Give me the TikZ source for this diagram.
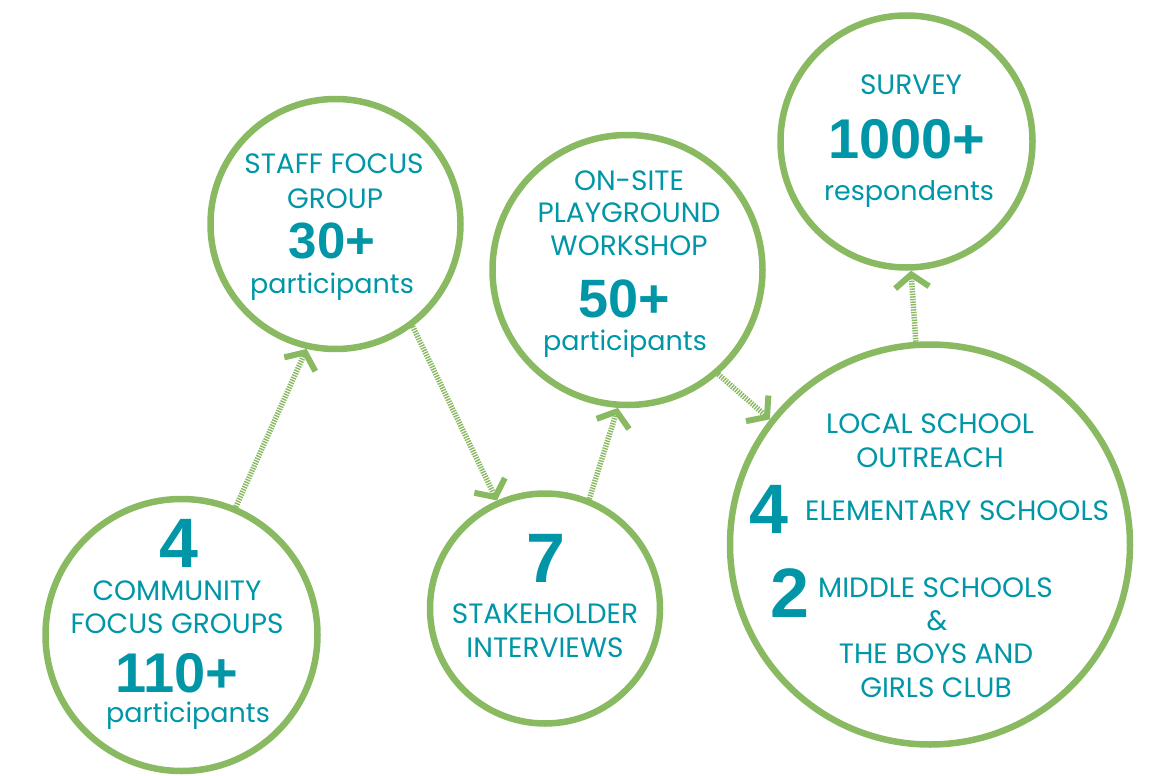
\documentclass[tikz,border=0pt]{standalone}
\usepackage{fontspec}
\setmainfont{Poppins}
\newfontfamily\numfont{Liberation Sans}
\usetikzlibrary{arrows.meta}

\definecolor{ringgreen}{RGB}{137,186,98}
\definecolor{labelteal}{RGB}{0,150,167}

\begin{document}
\begin{tikzpicture}[x=1pt,y=-1pt,
  ring/.style={circle,draw=ringgreen,line width=6.5pt,inner sep=0pt,minimum size=#1},
  link/.style={draw=ringgreen,line width=5.5pt,dash pattern=on 1.4pt off 1.2pt,
    -{Straight Barb[length=13pt,width=34pt,line width=6pt]}},
  lbl/.style={text=labelteal,anchor=base,inner sep=0pt,font=\fontsize{28}{28}\selectfont},
  low/.style={lbl,font=\fontsize{27}{27}\selectfont},
  num/.style={text=labelteal,anchor=base,inner sep=0pt,font=\numfont\bfseries\fontsize{#1}{#1}\selectfont}]
\useasboundingbox (0,0) rectangle (1157,776);

% circles
\node[ring=272pt] (comm) at (181.5,635) {};
\node[ring=250pt] (staff) at (335.5,224) {};
\node[ring=230pt] (stake) at (545,608.5) {};
\node[ring=270pt] (site) at (627.5,270) {};
\node[ring=400pt] (local) at (930,544.5) {};
\node[ring=252pt] (survey) at (906.5,141.5) {};

% community focus groups
\node[num=70] (c1) at (179,567) {4};
\node[lbl] (c2) at (177,600) {COMMUNITY};
\node[lbl] (c3) at (177,633) {FOCUS GROUPS};
\node[num=56] (c4) at (177,692) {110+};
\node[low] (c5) at (188,722) {participants};

% staff focus group
\node[lbl] (s1) at (334,173) {STAFF FOCUS};
\node[lbl] (s2) at (335,208) {GROUP};
\node[num=51] (s3) at (332,258) {30+};
\node[low] (s4) at (332,293) {participants};

% stakeholder interviews
\node[num=70] (k1) at (546,582) {7};
\node[lbl] (k2) at (545,623) {STAKEHOLDER};
\node[lbl] (k3) at (545,657) {INTERVIEWS};

% playground workshop
\node[lbl] (w1) at (629,190) {ON-SITE};
\node[lbl] (w2) at (629,222) {PLAYGROUND};
\node[lbl] (w3) at (629,255) {WORKSHOP};
\node[num=54] (w4) at (624,317) {50+};
\node[low] (w5) at (625,350) {participants};

% local school outreach
\node[lbl] (l1) at (930,433) {LOCAL SCHOOL};
\node[lbl] (l2) at (930,467) {OUTREACH};
\node[num=70] (l3) at (769,533) {4};
\node[lbl,anchor=base west] (l4) at (805,520) {ELEMENTARY SCHOOLS};
\node[num=70] (l5) at (790,617) {2};
\node[lbl,anchor=base west] (l6) at (818,597) {MIDDLE SCHOOLS};
\node[lbl] (l7) at (937,630) {\&};
\node[lbl] (l8) at (936,663) {THE BOYS AND};
\node[lbl] (l9) at (936,697) {GIRLS CLUB};

% survey
\node[lbl] (v1) at (911,95) {SURVEY};
\node[num=56] (v2) at (907,158) {1000+};
\node[low] (v3) at (909,200) {respondents};

% connectors
\draw[link] (comm.67) -- (staff.257);
\draw[link] (staff.307) -- (stake.114);
\draw[link] (stake.68) -- (site.266);
\draw[link] (site.311) -- (local.142);
\draw[link] (local.94) -- (survey.272);
\end{tikzpicture}
\end{document}
